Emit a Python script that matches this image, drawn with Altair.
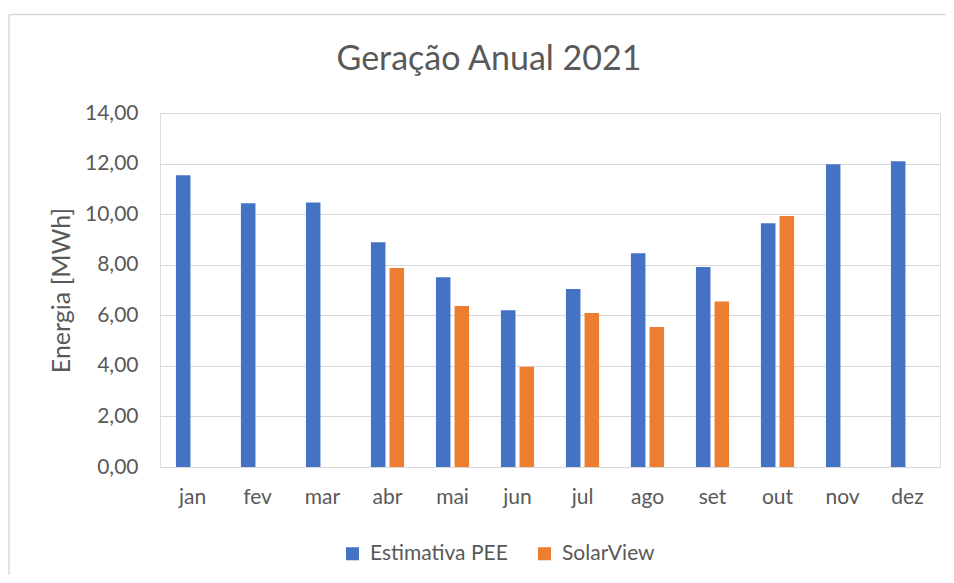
import altair as alt
import pandas as pd

months = ["jan", "fev", "mar", "abr", "mai", "jun", "jul", "ago", "set", "out", "nov", "dez"]
estimativa = [11.54, 10.43, 10.46, 8.89, 7.50, 6.20, 7.04, 8.45, 7.91, 9.64, 11.97, 12.09]
solarview = [None, None, None, 7.87, 6.37, 3.96, 6.09, 5.54, 6.55, 9.93, None, None]
series = ["Estimativa PEE", "SolarView"]
colors = ["#4472C4", "#ED7D31"]

rows = []
for m, e, s in zip(months, estimativa, solarview):
    rows.append({"mes": m, "serie": series[0], "valor": e})
    if s is not None:
        rows.append({"mes": m, "serie": series[1], "valor": s})
df = pd.DataFrame(rows)

FONT = "Lato"
GREY = "#595959"

bars = alt.Chart(df).mark_bar().encode(
    x=alt.X("mes:N", sort=months,
            scale=alt.Scale(paddingInner=0.49, paddingOuter=0.245),
            axis=alt.Axis(title=None, labelAngle=0, labelFontSize=21, labelColor=GREY,
                          labelFont=FONT, labelPadding=19, ticks=False,
                          domainColor="#D9D9D9", domainWidth=1, grid=False)),
    xOffset=alt.XOffset("serie:N", sort=series,
                        scale=alt.Scale(paddingInner=0.22, paddingOuter=0)),
    y=alt.Y("valor:Q",
            scale=alt.Scale(domain=[0, 14], nice=False),
            axis=alt.Axis(title="Energia [MWh]", values=[0, 2, 4, 6, 8, 10, 12, 14],
                          labelExpr="replace(format(datum.value, '.2f'), '.', ',')",
                          labelFontSize=21, labelColor=GREY, labelFont=FONT, labelPadding=22,
                          titleFontSize=25, titleColor=GREY, titleFont=FONT, titleFontWeight="normal",
                          titlePadding=10, ticks=False, domain=False,
                          gridColor="#D9D9D9", gridWidth=1)),
    color=alt.Color("serie:N", sort=series,
                    scale=alt.Scale(domain=series, range=colors),
                    legend=alt.Legend(title=None, orient="none", direction="horizontal",
                                      legendX=182, legendY=430, symbolType="square",
                                      symbolSize=170, symbolStrokeWidth=0,
                                      labelFontSize=21, labelColor=GREY, labelFont=FONT,
                                      columnPadding=26, labelOffset=7)),
)

frame_df = pd.DataFrame({"k": [0]})
frame_left = alt.Chart(frame_df).mark_rule(color="#D9D9D9", strokeWidth=1.5, clip=False).encode(
    x=alt.value(-151), y=alt.value(-98.5), y2=alt.value(470))
frame_top = alt.Chart(frame_df).mark_rule(color="#D9D9D9", strokeWidth=1.5, clip=False).encode(
    x=alt.value(-151), x2=alt.value(786), y=alt.value(-98.5))

chart = alt.layer(bars, frame_left, frame_top).properties(
    width=780,
    height=354,
    title=alt.TitleParams("Geração Anual 2021", fontSize=34, font=FONT, color=GREY,
                          fontWeight="normal", anchor="middle", frame="group", dx=-61,
                          offset=-63),
    padding={"left": 152, "top": 105, "right": 6, "bottom": 108},
    autosize=alt.AutoSizeParams(type="none"),
).configure_view(stroke=None).configure(background="white")

chart.save("out.html", embed_options={"renderer": "svg", "actions": False})
